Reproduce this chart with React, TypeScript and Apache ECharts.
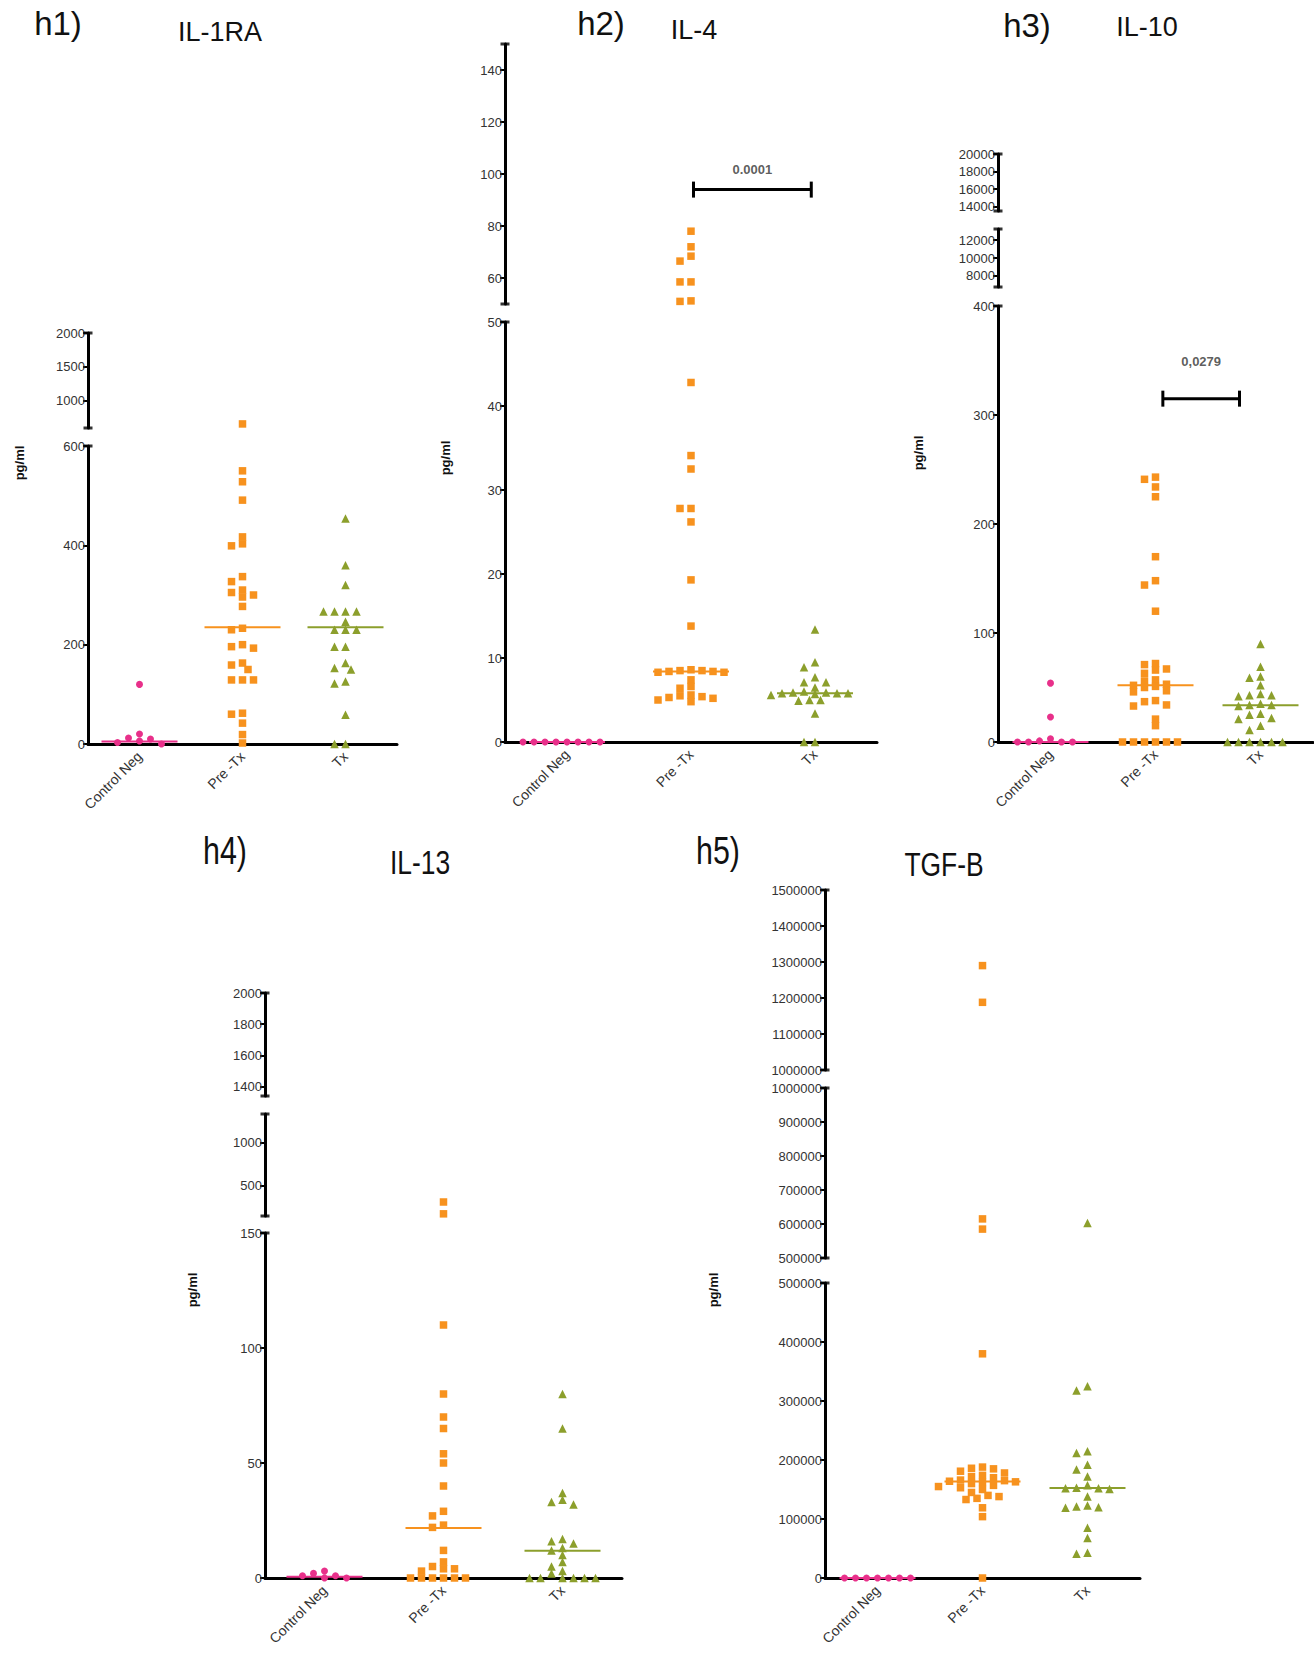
import React, { useEffect, useRef } from "react";
import * as echarts from "echarts";

// ---------- DATA ----------
const categories = ["Control Neg", "Pre -Tx", "Tx"];

// h1) IL-1RA
const il1raControl = [120, 20, 12, 10, 6, 3, 0];
const il1raPre = [660, 550, 528, 491, 417, 403, 399, 337, 327, 310, 305, 300, 296, 277, 233, 230, 200, 196, 193, 163, 159, 150, 129, 129, 129, 62, 60, 42, 19, 2];
const il1raTx = [454, 360, 320, 267, 267, 267, 267, 246, 230, 230, 230, 196, 196, 163, 153, 150, 126, 122, 59, 0, 0];
const il1raMedians = [5, 235, 235];
const il1raRanges = [[0, 600], [600, 2000]];
const il1raTicks = [[0, 200, 400, 600], [1000, 1500, 2000]];

// h2) IL-4
const il4Control = [0, 0, 0, 0, 0, 0, 0, 0];
const il4Pre = [78, 72, 68.4, 66.5, 58.5, 58.5, 51.2, 51, 42.8, 34.1, 32.5, 27.8, 27.8, 26.2, 19.3, 13.8, 8.6, 8.5, 8.5, 8.4, 8.4, 8.3, 8.3, 7.4, 6.6, 6.4, 5.6, 5.5, 5.4, 5.3, 5.2, 5.0, 4.8];
const il4Tx = [13.4, 9.5, 8.9, 7.7, 7.1, 7.1, 6.5, 6.0, 5.9, 5.9, 5.8, 5.8, 5.8, 5.7, 5.6, 5.0, 5.0, 4.9, 3.4, 0, 0];
const il4Medians = [0, 8.4, 5.8];
const il4Ranges = [[0, 50], [50, 150]];
const il4Ticks = [[0, 10, 20, 30, 40, 50], [60, 80, 100, 120, 140]];
const il4Sig = { from: 1.02, to: 1.97, value: 94, label: "0.0001" };

// h3) IL-10
const il10Control = [54, 23, 3, 1, 0, 0, 0, 0];
const il10Pre = [243, 241, 234, 225, 170, 148, 144, 120, 72, 71, 67, 66, 63, 57, 56, 53, 52, 51, 50, 47, 46, 38, 37, 34, 33, 21, 15, 0, 0, 0, 0, 0, 0];
const il10Tx = [90, 69, 60, 59, 52, 44, 43, 43, 42, 35, 34, 34, 33, 26, 25, 22, 21, 15, 11, 0, 0, 0, 0, 0, 0];
const il10Medians = [0, 52, 33.7];
const il10Ranges = [[0, 400], [6750, 13250], [13500, 20000]];
const il10Ticks = [[0, 100, 200, 300, 400], [8000, 10000, 12000], [14000, 16000, 18000, 20000]];
const il10Sig = { from: 1.07, to: 1.8, value: 315, label: "0,0279" };

// h4) IL-13
const il13Control = [3, 2, 1, 1, 0, 0];
const il13Pre = [312, 175, 110, 80, 70, 65, 54, 50, 40, 29, 27, 23, 22, 12, 7, 5, 4, 4, 3, 0, 0, 0, 0, 0, 0];
const il13Tx = [80, 65, 37, 34, 33, 32, 17, 16, 15, 13, 12, 10, 7, 5, 3, 2, 0, 0, 0, 0, 0, 0];
const il13Medians = [0.5, 21.7, 11.8];
const il13Ranges = [[0, 150], [150, 1330], [1340, 2000]];
const il13Ticks = [[0, 50, 100, 150], [500, 1000], [1400, 1600, 1800, 2000]];

// h5) TGF-B
const tgfControl = [0, 0, 0, 0, 0, 0, 0];
const tgfPre = [1290000, 1188000, 615000, 585000, 380000, 188000, 186000, 185000, 181000, 178000, 174000, 172000, 170000, 166000, 165000, 164000, 163000, 162000, 160000, 157000, 155000, 153000, 150000, 145000, 140000, 138000, 135000, 133000, 119000, 104000, 0];
const tgfTx = [603000, 325000, 318000, 215000, 212000, 192000, 184000, 172000, 157000, 153000, 152000, 152000, 151000, 138000, 123000, 121000, 120000, 119000, 85000, 68000, 43000, 41000];
const tgfMedians = [0, 163700, 152500];
const tgfRanges = [[0, 500000], [500000, 1000000], [1000000, 1500000]];
const tgfTicks = [
  [0, 100000, 200000, 300000, 400000, 500000],
  [500000, 600000, 700000, 800000, 900000, 1000000],
  [1000000, 1100000, 1200000, 1300000, 1400000, 1500000],
];

// ---------- STYLE / LAYOUT ----------
const FONT = "'Liberation Sans', Arial, Helvetica, sans-serif";
const COLORS = ["#E8308A", "#F7921E", "#8C9F2C"];
const SYMBOLS = ["circle", "rect", "triangle"];
const SIZES = [7, 7.5, 8.5];
const MEDIAN_HALF_PX = 38;

type Sig = { from: number; to: number; value: number; label: string };
type Panel = {
  groups: number[][];
  medians: number[];
  ranges: number[][];
  ticks: number[][];
  axisX: number;
  axisRight: number;
  segPx: number[][];
  sig?: Sig;
  sigSeg?: number;
  sigGap?: number;
  title: string;
  name: string;
  titlePos: number[];
  namePos: number[];
  ylabelPos: number[];
  narrow?: boolean;
};

const panels: Panel[] = [
  {
    groups: [il1raControl, il1raPre, il1raTx], medians: il1raMedians, ranges: il1raRanges, ticks: il1raTicks,
    axisX: 88, axisRight: 397, segPx: [[446, 744], [333, 428]],
    title: "h1)", name: "IL-1RA", titlePos: [58, 23], namePos: [220, 32], ylabelPos: [19, 463],
  },
  {
    groups: [il4Control, il4Pre, il4Tx], medians: il4Medians, ranges: il4Ranges, ticks: il4Ticks,
    axisX: 505, axisRight: 877, segPx: [[322, 742], [44, 304]],
    sig: il4Sig, sigSeg: 1, sigGap: 14,
    title: "h2)", name: "IL-4", titlePos: [601, 23], namePos: [694, 30], ylabelPos: [445, 458],
  },
  {
    groups: [il10Control, il10Pre, il10Tx], medians: il10Medians, ranges: il10Ranges, ticks: il10Ticks,
    axisX: 998, axisRight: 1313, segPx: [[306, 742], [229, 287], [154, 211]],
    sig: il10Sig, sigSeg: 0, sigGap: 31,
    title: "h3)", name: "IL-10", titlePos: [1027, 25], namePos: [1147, 27], ylabelPos: [918, 453],
  },
  {
    groups: [il13Control, il13Pre, il13Tx], medians: il13Medians, ranges: il13Ranges, ticks: il13Ticks,
    axisX: 265, axisRight: 622, segPx: [[1233, 1578], [1114, 1216], [993, 1096]],
    title: "h4)", name: "IL-13", titlePos: [225, 851], namePos: [420, 862], ylabelPos: [192, 1290], narrow: true,
  },
  {
    groups: [tgfControl, tgfPre, tgfTx], medians: tgfMedians, ranges: tgfRanges, ticks: tgfTicks,
    axisX: 825, axisRight: 1140, segPx: [[1283, 1578], [1088, 1258], [890, 1070]],
    title: "h5)", name: "TGF-B", titlePos: [718, 851], namePos: [944, 864], ylabelPos: [713, 1290], narrow: true,
  },
];

function segOf(v: number, ranges: number[][]) {
  for (let s = 0; s < ranges.length; s++) if (v <= ranges[s][1]) return s;
  return ranges.length - 1;
}

// deterministic beeswarm: spreads points that would overlap on screen
function swarm(values: number[], p: Panel, g: number) {
  const catW = (p.axisRight - p.axisX) / 3;
  const RX = 11, RY = 6.5, STEP = 5.5;
  const order = values.map((_, i) => i).sort((a, b) => values[b] - values[a]);
  const placed: { x: number; y: number }[] = [];
  const out: { v: number; s: number; x: number }[] = [];
  for (const i of order) {
    const v = values[i];
    const s = segOf(v, p.ranges);
    const [lo, hi] = p.ranges[s];
    const [top, bottom] = p.segPx[s];
    const y = bottom - ((v - lo) / (hi - lo)) * (bottom - top);
    let dx = 0;
    for (let k = 0; k < 60; k++) {
      const c = k === 0 ? 0 : (k % 2 === 1 ? -1 : 1) * Math.ceil(k / 2) * STEP;
      const hit = placed.some((q) => {
        const ex = (q.x - c) / RX, ey = (q.y - y) / RY;
        return ex * ex + ey * ey < 1;
      });
      if (!hit) { dx = c; break; }
    }
    placed.push({ x: dx, y });
    out.push({ v, s, x: g + dx / catW });
  }
  return out;
}

function buildOption() {
  const grid: any[] = [], xAxis: any[] = [], yAxis: any[] = [], series: any[] = [], graphic: any[] = [];
  panels.forEach((p) => {
    const catW = (p.axisRight - p.axisX) / 3;
    const segAxes: { vx: number; yi: number }[] = [];
    p.segPx.forEach((px, s) => {
      const gi = grid.length;
      grid.push({ left: p.axisX, top: px[0], width: p.axisRight - p.axisX, height: px[1] - px[0] });
      const vx = xAxis.length;
      xAxis.push({ gridIndex: gi, type: "value", min: -0.5, max: 2.5, show: false });
      if (s === 0) {
        xAxis.push({
          gridIndex: gi, type: "category", data: categories, position: "bottom",
          axisLine: { onZero: false, lineStyle: { color: "#000", width: 3 } },
          axisTick: { alignWithLabel: true, length: 5, lineStyle: { color: "#000", width: 3 } },
          axisLabel: { rotate: 45, interval: 0, fontSize: 14, color: "#333", margin: 10, fontFamily: FONT },
          splitLine: { show: false },
        });
      }
      const yi = yAxis.length;
      const [lo, hi] = p.ranges[s];
      yAxis.push({
        gridIndex: gi, type: "value", min: lo, max: hi, position: "left",
        axisLine: { show: true, onZero: false, lineStyle: { color: "#000", width: 3 } },
        axisTick: { show: true, length: 5, lineStyle: { color: "#000", width: 2 }, customValues: p.ticks[s] },
        axisLabel: {
          customValues: p.ticks[s], formatter: (v: number) => String(v),
          fontSize: 13, color: "#333", margin: 3, fontFamily: FONT,
        },
        splitLine: { show: false },
      });
      segAxes.push({ vx, yi });
      // end caps of the broken axis segments
      series.push({
        type: "scatter", xAxisIndex: vx, yAxisIndex: yi, silent: true, clip: false, z: 6,
        symbol: "rect", symbolSize: [9, 3], itemStyle: { color: "#000" },
        data: s === 0 ? [[-0.5, hi]] : [[-0.5, lo], [-0.5, hi]],
      });
    });

    p.groups.forEach((vals, g) => {
      const pts = swarm(vals, p, g);
      p.segPx.forEach((_, s) => {
        const data = pts.filter((q) => q.s === s).map((q) => [q.x, q.v]);
        if (!data.length) return;
        series.push({
          type: "scatter", xAxisIndex: segAxes[s].vx, yAxisIndex: segAxes[s].yi, clip: false, z: 4,
          symbol: SYMBOLS[g], symbolSize: SIZES[g], itemStyle: { color: COLORS[g], opacity: 1 },
          data,
        });
      });
      const hw = MEDIAN_HALF_PX / catW;
      series.push({
        type: "line", xAxisIndex: segAxes[0].vx, yAxisIndex: segAxes[0].yi, symbol: "none", z: 5,
        lineStyle: { color: COLORS[g], width: 2 }, silent: true,
        data: [[g - hw, p.medians[g]], [g + hw, p.medians[g]]],
      });
    });

    if (p.sig) {
      const a = segAxes[p.sigSeg || 0];
      series.push({
        type: "line", xAxisIndex: a.vx, yAxisIndex: a.yi, z: 6, silent: true,
        symbol: "rect", symbolSize: [3, 16], itemStyle: { color: "#000" },
        lineStyle: { color: "#000", width: 3 },
        data: [[p.sig.from, p.sig.value], [p.sig.to, p.sig.value]],
      });
      series.push({
        type: "scatter", xAxisIndex: a.vx, yAxisIndex: a.yi, symbolSize: 0, silent: true,
        label: {
          show: true, position: "top", distance: p.sigGap, formatter: p.sig.label,
          fontSize: 13, fontWeight: "bold", color: "#333", fontFamily: FONT,
        },
        data: [[(p.sig.from + p.sig.to) / 2, p.sig.value]],
      });
    }

    const sx = p.narrow ? 0.8 : 1;
    const tf = p.narrow ? `38px ${FONT}` : `33px ${FONT}`;
    const nf = p.narrow ? `33px ${FONT}` : `27px ${FONT}`;
    graphic.push(
      { type: "text", x: p.titlePos[0], y: p.titlePos[1], scaleX: sx, style: { text: p.title, font: tf, fill: "#111", textAlign: "center", textVerticalAlign: "middle", align: "center", verticalAlign: "middle" } },
      { type: "text", x: p.namePos[0], y: p.namePos[1], scaleX: sx, style: { text: p.name, font: nf, fill: "#111", textAlign: "center", textVerticalAlign: "middle", align: "center", verticalAlign: "middle" } },
      { type: "text", x: p.ylabelPos[0], y: p.ylabelPos[1], rotation: Math.PI / 2, style: { text: "pg/ml", font: `bold 13px ${FONT}`, fill: "#111", textAlign: "center", textVerticalAlign: "middle", align: "center", verticalAlign: "middle" } },
    );
  });

  return { animation: false, backgroundColor: "#fff", grid, xAxis, yAxis, series, graphic };
}

export default function App() {
  const ref = useRef<HTMLDivElement>(null);
  useEffect(() => {
    document.body.style.margin = "0";
    if (!ref.current) return;
    const chart = echarts.init(ref.current, undefined, { renderer: "svg" });
    chart.setOption(buildOption() as any);
    return () => chart.dispose();
  }, []);
  return <div ref={ref} style={{ width: 1314, height: 1656 }} />;
}
